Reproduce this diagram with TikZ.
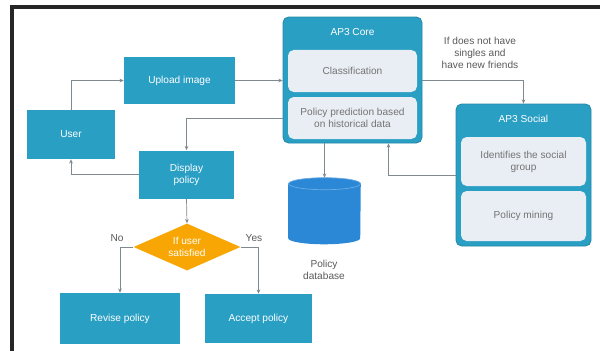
\documentclass[tikz,border=0pt]{standalone}
\usepackage{fontspec}
\setmainfont{Liberation Sans}
\usetikzlibrary{shapes.geometric, arrows.meta, calc}
\definecolor{teal}{HTML}{2A9FC4}
\definecolor{pale}{HTML}{E9EEF4}
\definecolor{amber}{HTML}{F8A603}
\definecolor{dbblue}{HTML}{2B88D6}
\definecolor{wire}{HTML}{7F8A90}
\begin{document}
\begin{tikzpicture}[
        box/.style={rectangle, fill=teal, text=white, minimum width=2.775cm, minimum height=1.175cm, font=\fontsize{7.2}{8.6}\selectfont, align=center, inner sep=1pt},
        panel/.style={rectangle, rounded corners=4pt, fill=teal, draw=teal!85!black, line width=0.6pt},
        inner/.style={rectangle, rounded corners=4pt, fill=pale, text=black!55, minimum width=3.225cm, minimum height=1.05cm, font=\fontsize{7.2}{8.6}\selectfont, align=center, inner sep=1pt},
        title/.style={text=white, font=\fontsize{7.2}{8.6}\selectfont},
        decision/.style={diamond, fill=amber, text=white, minimum width=2.675cm, minimum height=1.175cm, aspect=2.3, inner sep=0pt, font=\fontsize{7.2}{8.6}\selectfont, align=center},
        store/.style={rectangle, minimum width=1.8cm, minimum height=1.65cm, inner sep=0pt},
        note/.style={text=black!65, font=\fontsize{7.2}{8.6}\selectfont, align=center},
        arrow/.style={-{Stealth[length=3pt, width=2.6pt]}, wire, line width=0.5pt}
    ]
        \useasboundingbox (0,0) rectangle (15,-8.775);
        \draw[line width=2.2pt, black!85] (15,-0.175) -- (0.3,-0.175) -- (0.3,-8.775);

        % === User side ===
        \node[box, minimum width=2.2cm, minimum height=1.225cm] (user) at (1.775,-3.3625) {User};
        \node[box] (upload) at (4.4875,-2.0125) {Upload image};
        \node[box, minimum width=2.375cm, minimum height=1.2cm] (display) at (4.6625,-4.3625) {Display\\policy};

        % === AP3 Core ===
        \node[panel, minimum width=3.475cm, minimum height=3.15cm] (core) at (8.8125,-2.0) {};
        \node[title] (coretitle) at (8.8125,-0.8) {AP3 Core};
        \node[inner] (classif) at (8.8125,-1.775) {Classification};
        \node[inner] (predict) at (8.8125,-2.95) {Policy prediction based\\on historical data};

        % === AP3 Social ===
        \node[panel, minimum width=3.375cm, minimum height=3.55cm] (social) at (13.0875,-4.375) {};
        \node[title] (socialtitle) at (13.0875,-2.975) {AP3 Social};
        \node[inner, minimum width=3.125cm, minimum height=1.225cm] (identify) at (13.0875,-4.0375) {Identifies the social\\group};
        \node[inner, minimum width=3.125cm, minimum height=1.25cm] (mining) at (13.0875,-5.4) {Policy mining};

        \node[note] (cond) at (12.0,-1.325) {If does not have\\singles and\\have new friends};

        % === Database ===
        \node[store] (db) at (8.1125,-5.275) {};
        \fill[dbblue] ($(db.north west)+(0,-0.15)$) -- ($(db.south west)+(0,0.15)$)
            arc (180:360:0.9 and 0.15) -- ($(db.north east)+(0,-0.15)$)
            arc (0:180:0.9 and 0.15) -- cycle;
        \draw[dbblue!70!white, line width=0.5pt] ($(db.north)+(0,-0.15)$) ellipse (0.9 and 0.15);
        \node[note] (dblabel) at (8.1,-6.75) {Policy\\database};

        % === Decision ===
        \node[decision] (decide) at (4.675,-6.175) {If user\\satisfied};
        \node[box, minimum width=3.0cm, minimum height=1.275cm] (revise) at (3.0,-7.9625) {Revise policy};
        \node[box, minimum width=2.675cm, minimum height=1.225cm] (accept) at (6.4625,-7.9625) {Accept policy};
        \node[note] (no) at (2.925,-5.95) {No};
        \node[note] (yes) at (6.35,-5.95) {Yes};

        % === Connectors ===
        \draw[arrow] (user.north) |- (upload.west);
        \draw[arrow] (upload.east) -- (core.west |- upload.east);
        \draw[arrow] (core.west |- predict.west) -| (display.north);
        \draw[arrow] (display.west) -| (user.south);
        \draw[arrow] (core.east) -| (social.north);
        \draw[arrow] (social.west) -| ($(core.south)+(0.9,0)$);
        \draw[arrow] (db.north |- core.south) -- (db.north);
        \draw[arrow] (display.south) -- (decide.north);
        \draw[arrow] (decide.west) -| (revise.north);
        \draw[arrow] (decide.east) -| (accept.north);
    \end{tikzpicture}
\end{document}
